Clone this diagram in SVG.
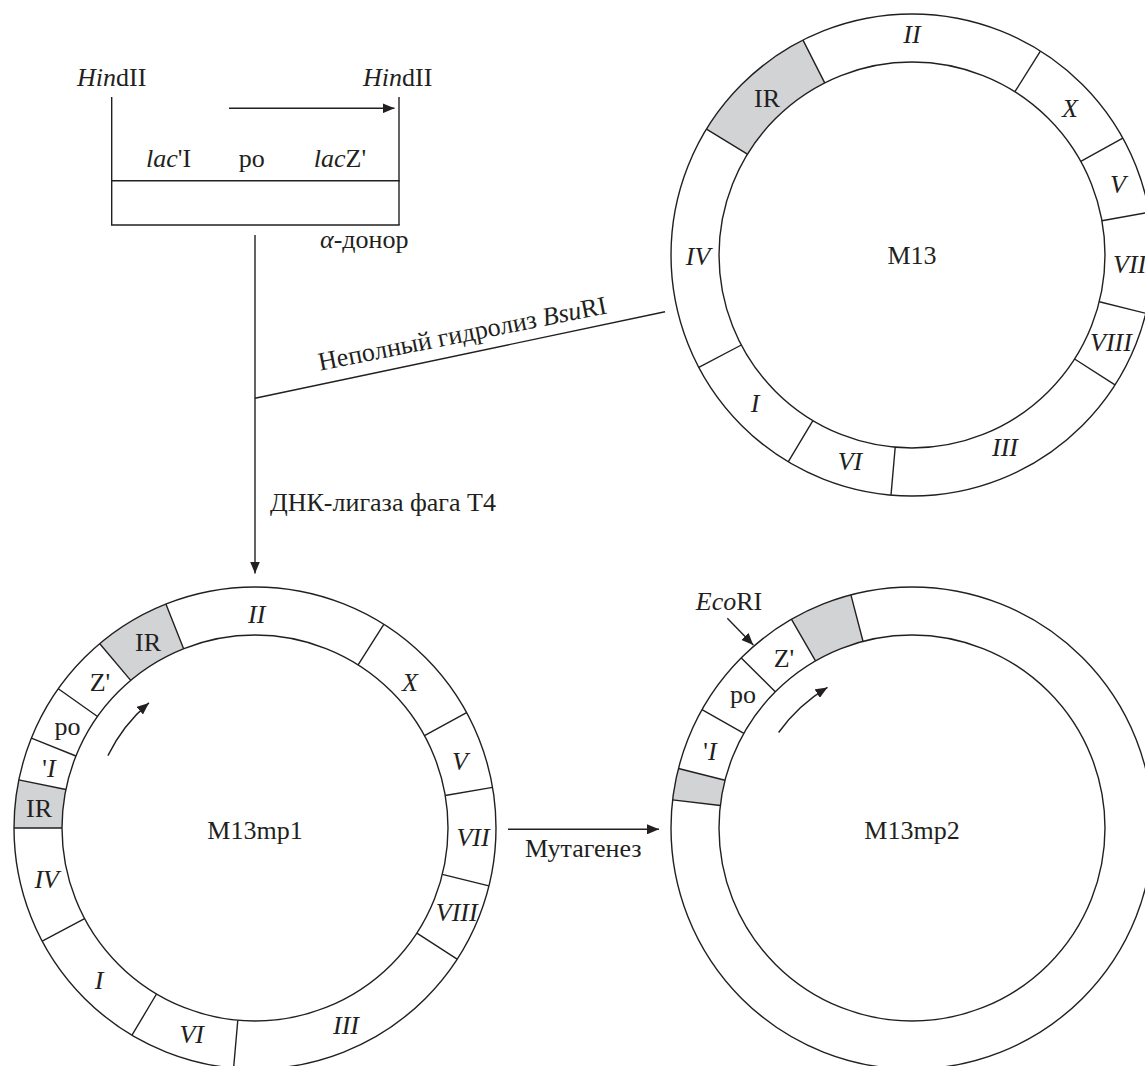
<svg xmlns="http://www.w3.org/2000/svg" width="1145" height="1066" viewBox="0 0 1145 1066">
<defs>
<style>
.ln{stroke:#231f20;stroke-width:1.4;fill:none}
.sh{fill:#d1d3d4;stroke:none}
text{font-family:"Liberation Serif","Times New Roman",serif;font-size:26px;fill:#231f20}
.c{text-anchor:middle}
.i{font-style:italic}
</style>
<marker id="ah" viewBox="0 0 12 10" refX="12" refY="5" markerWidth="12" markerHeight="10" markerUnits="userSpaceOnUse" orient="auto">
<path d="M0,0 L12,5 L0,10 z" fill="#231f20"/>
</marker>
</defs>
<rect width="1145" height="1066" fill="#fff"/>

<g id="donor">
<line class="ln" x1="111.7" y1="97" x2="111.7" y2="225"/>
<line class="ln" x1="399" y1="97" x2="399" y2="225"/>
<line class="ln" x1="111" y1="180.7" x2="399.7" y2="180.7"/>
<line class="ln" x1="111" y1="225" x2="399.7" y2="225"/>
<text x="77" y="86"><tspan class="i">Hin</tspan>dII</text>
<text x="363" y="86"><tspan class="i">Hin</tspan>dII</text>
<text x="168.5" y="167" class="c"><tspan class="i">lac</tspan>'I</text>
<text x="251.7" y="167" class="c">po</text>
<text x="340" y="167" class="c"><tspan class="i">lac</tspan>Z'</text>
<text x="320" y="248"><tspan class="i">α</tspan>-донор</text>
</g>

<g id="M13">
<path class="sh" d="M706.5 129.1 A241 241 0 0 1 803.0 40.1 L824.7 82.9 A193 193 0 0 0 747.4 154.2 Z"/>
<circle class="ln" cx="912" cy="255" r="241"/>
<circle class="ln" cx="912" cy="255" r="193"/>
<path class="ln" d="M706.5 129.1 L747.4 154.2 M803.0 40.1 L824.7 82.9 M1040.4 51.1 L1014.9 91.7 M1122.8 138.2 L1080.8 161.4 M1149.2 212.3 L1101.9 220.8 M1145.8 313.3 L1099.3 301.7 M1115.0 384.9 L1074.6 359.0 M891.0 495.1 L895.2 447.3 M788.2 461.8 L812.9 420.6 M698.8 367.4 L741.3 345.0"/>
<text x="912" y="43" class="c i">II</text>
<text x="767" y="106.5" class="c">IR</text>
<text x="1070" y="117" class="c i">X</text>
<text x="1118" y="193" class="c i">V</text>
<text x="1113" y="273" class="i">VII</text>
<text x="698" y="265" class="c i">IV</text>
<text x="912" y="264" class="c">M13</text>
<text x="1111" y="351" class="c i">VIII</text>
<text x="755" y="412" class="c i">I</text>
<text x="850" y="470" class="c i">VI</text>
<text x="1005" y="456" class="c i">III</text>
</g>

<g id="M13mp1">
<path class="sh" d="M99.8 643.7 A241 241 0 0 1 165.9 604.1 L183.6 648.7 A193 193 0 0 0 130.7 680.4 Z"/>
<path class="sh" d="M14 828 A241 241 0 0 1 18.8 779.9 L65.9 789.5 A193 193 0 0 0 62 828 Z"/>
<circle class="ln" cx="255" cy="828" r="241"/>
<circle class="ln" cx="255" cy="828" r="193"/>
<path class="ln" d="M42.2 941.1 L84.6 918.6 M14 828 L62 828 M18.8 779.9 L65.9 789.5 M31.4 738.1 L75.9 756.0 M58.3 688.7 L97.5 716.5 M99.8 643.7 L130.7 680.4 M165.9 604.1 L183.6 648.7 M383.8 624.3 L358.1 664.9 M466.6 712.6 L424.5 735.6 M492.6 787.4 L445.2 795.5 M488.9 885.9 L442.3 874.4 M457.1 959.2 L416.9 933.1 M233.6 1068.0 L237.8 1020.2 M132.0 1035.2 L156.5 994.0"/>
<path class="ln" d="M107.9 755.6 A164 164 0 0 1 148.9 702.9" marker-end="url(#ah)"/>
<text x="256.7" y="623" class="c i">II</text>
<text x="148" y="651" class="c">IR</text>
<text x="100" y="690.5" class="c">Z'</text>
<text x="67.5" y="735" class="c">po</text>
<text x="49" y="776.5" class="c">'<tspan class="i">I</tspan></text>
<text x="39" y="816.5" class="c">IR</text>
<text x="410" y="690.5" class="c i">X</text>
<text x="460" y="770" class="c i">V</text>
<text x="473" y="846" class="c i">VII</text>
<text x="255" y="839" class="c">M13mp1</text>
<text x="46.7" y="887.5" class="c i">IV</text>
<text x="456.7" y="921" class="c i">VIII</text>
<text x="99" y="989" class="c i">I</text>
<text x="191.7" y="1042.5" class="c i">VI</text>
<text x="346" y="1034" class="c i">III</text>
</g>

<g id="M13mp2">
<path class="sh" d="M672.6 799.9 A241 241 0 0 1 678.5 768.5 L725.0 780.3 A193 193 0 0 0 720.3 805.5 Z"/>
<path class="sh" d="M791.5 619.3 A241 241 0 0 1 850.9 594.9 L863.0 641.3 A193 193 0 0 0 815.5 660.9 Z"/>
<circle class="ln" cx="912" cy="828" r="241"/>
<circle class="ln" cx="912" cy="828" r="193"/>
<path class="ln" d="M672.6 799.9 L720.3 805.5 M678.5 768.5 L725.0 780.3 M702.0 709.7 L743.9 733.3 M741.3 657.9 L775.3 691.8 M791.5 619.3 L815.5 660.9 M850.9 594.9 L863.0 641.3"/>
<path class="ln" d="M778.6 732.5 A164 164 0 0 1 827.5 687.4" marker-end="url(#ah)"/>
<text x="784" y="666.5" class="c">Z'</text>
<text x="743" y="703" class="c">po</text>
<text x="710" y="760" class="c">'<tspan class="i">I</tspan></text>
<text x="729" y="610" class="c"><tspan class="i">Eco</tspan>RI</text>
<text x="912" y="839" class="c">M13mp2</text>
</g>

<g id="connectors">
<line class="ln" x1="229" y1="108.3" x2="394.5" y2="108.3" marker-end="url(#ah)"/>
<line class="ln" x1="255" y1="235" x2="255" y2="573.5" marker-end="url(#ah)"/>
<line class="ln" x1="255" y1="398.3" x2="665" y2="311.7"/>
<line class="ln" x1="508" y1="829.3" x2="659" y2="829.3" marker-end="url(#ah)"/>
<line class="ln" x1="727.3" y1="618.3" x2="753.3" y2="645" marker-end="url(#ah)"/>
</g>

<g id="labels">
<text x="464" y="342" class="c" transform="rotate(-11.3 464 342)">Неполный гидролиз <tspan class="i">Bsu</tspan>RI</text>
<text x="270" y="511">ДНК-лигаза фага T4</text>
<text x="525" y="857">Мутагенез</text>
</g>
</svg>
